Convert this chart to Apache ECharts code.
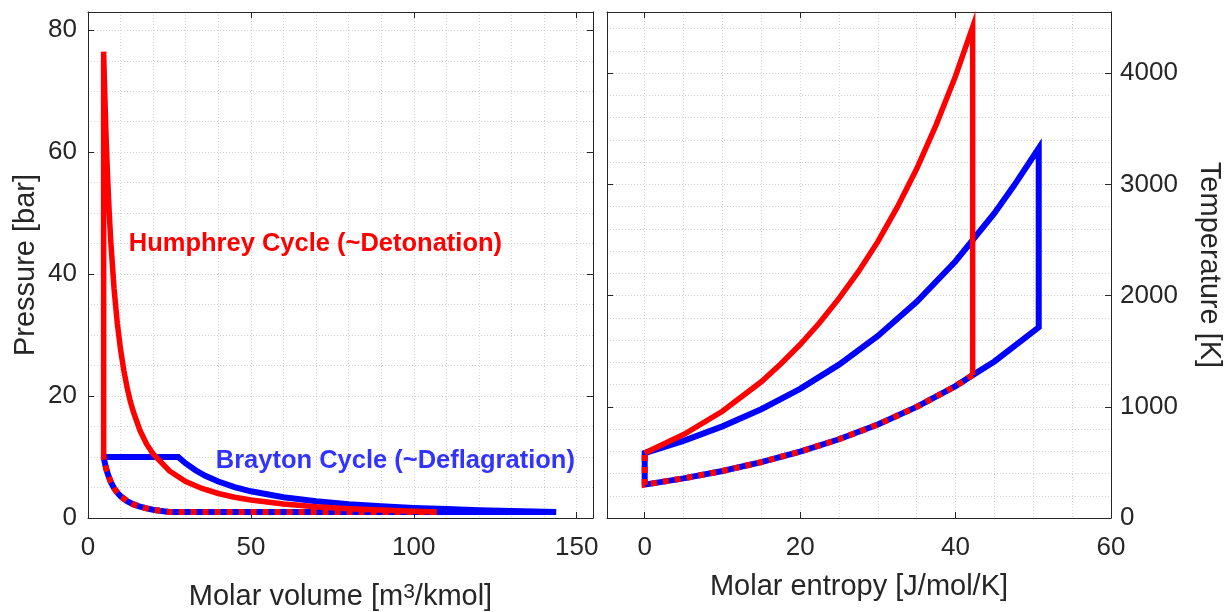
<!DOCTYPE html>
<html><head><meta charset="utf-8">
<script src="https://cdn.jsdelivr.net/npm/echarts@6/dist/echarts.min.js"></script>
<style>html,body{margin:0;padding:0;background:#fff}#c{width:1225px;height:612px}</style>
</head><body><div id="c"></div>
<script>
// ---------- P–v diagram (left panel) ----------
const pvBraytonV = [4.8, 27.7, 30, 33, 36, 40, 45, 50, 60, 70, 80, 90, 100, 110, 120, 130, 143.7, 24.9, 22, 20, 18, 16, 14, 12, 10, 9, 8, 7, 6, 5.5, 5, 4.8];
const pvBraytonP = [10, 10, 8.95, 7.83, 6.93, 5.99, 5.08, 4.38, 3.40, 2.74, 2.27, 1.93, 1.66, 1.46, 1.29, 1.15, 1.0, 1.0, 1.19, 1.36, 1.57, 1.85, 2.23, 2.77, 3.58, 4.15, 4.89, 5.90, 7.32, 8.27, 9.44, 10];
const pvHumphreyV = [4.8, 4.8, 4.9, 5, 5.5, 6, 6.5, 7, 8, 9, 10, 11, 12, 13, 14, 16, 18, 20, 25, 30, 35, 40, 45, 50, 60, 70, 80, 90, 100, 107];
const pvHumphreyP = [10, 76.5, 74.3, 72.3, 63.3, 56.1, 50.2, 45.3, 37.6, 31.9, 27.6, 24.2, 21.4, 19.1, 17.3, 14.3, 12.1, 10.5, 7.72, 5.99, 4.84, 4.02, 3.41, 2.94, 2.29, 1.84, 1.53, 1.30, 1.12, 1.0];
const pvSharedV = [107, 24.9, 22, 20, 18, 16, 14, 12, 10, 9, 8, 7, 6, 5.5, 5, 4.8];
const pvSharedP = [1.0, 1.0, 1.19, 1.36, 1.57, 1.85, 2.23, 2.77, 3.58, 4.15, 4.89, 5.90, 7.32, 8.27, 9.44, 10];

// ---------- T–s diagram (right panel) ----------
const tsBraytonS = [0, 0, 5, 10, 15, 20, 25, 30, 35, 40, 45, 47.5, 50.7, 50.7, 45, 42.2, 40, 35, 30, 25, 20, 15, 10, 5, 0];
const tsBraytonT = [300, 584, 693, 824, 978, 1161, 1379, 1637, 1944, 2309, 2741, 2987, 3325, 1715, 1408, 1285, 1186, 999, 841, 708, 597, 502, 423, 356, 300];
const tsHumphreyS = [0, 5, 10, 15, 17.5, 20, 22.5, 25, 27.5, 30, 32.5, 35, 37.5, 40, 42.2, 42.2];
const tsHumphreyT = [584, 750, 960, 1225, 1385, 1560, 1755, 1975, 2215, 2485, 2795, 3140, 3535, 3975, 4416, 1285];
const tsSharedS = [42.2, 40, 35, 30, 25, 20, 15, 10, 5, 0, 0];
const tsSharedT = [1285, 1186, 999, 841, 708, 597, 502, 423, 356, 300, 584];

// ---------- text ----------
const leftXTitle = ['Molar volume [m', '3', '/kmol]'];
const leftYTitle = 'Pressure [bar]';
const rightXTitle = 'Molar entropy [J/mol/K]';
const rightYTitle = 'Temperature [K]';
const humphreyLabel = 'Humphrey Cycle (~Detonation)';
const braytonLabel = 'Brayton Cycle (~Deflagration)';
const humphreyLabelPos = [12.5, 44.9];
const braytonLabelPos = [39.2, 9.4];

const zip = (a, b) => a.map((v, i) => [v, b[i]]);

const FONT = '"Liberation Sans", Arial, Helvetica, sans-serif';
const TXT = '#262626';
const GRIDC = '#d2d2d2';
const RED = '#ff0000';
const BLUE = '#0000ff';

const axisLine = {show: true, onZero: false, lineStyle: {color: TXT, width: 1}};
const axisTick = {show: true, inside: true, length: 6, lineStyle: {color: TXT, width: 1}};
const splitLine = {show: true, lineStyle: {color: GRIDC, type: [1, 2], width: 1}};
const noSplit = {show: false};
const fmt = v => String(v);
const labelBase = {color: TXT, fontFamily: FONT, fontSize: 26, formatter: fmt};
const titleStyle = {color: TXT, fontFamily: FONT, fontSize: 29};

function mainAxis(o) {
  return Object.assign({
    type: 'value', axisLine, axisTick, splitLine,
    minorTick: {show: false, splitNumber: o.minor},
    minorSplitLine: {show: true, lineStyle: {color: GRIDC, type: [1, 2], width: 1}}
  }, o);
}
function mirrorAxis(o) {
  return Object.assign({
    type: 'value', axisLine, axisTick, splitLine: noSplit,
    axisLabel: {show: false}, minorSplitLine: {show: false}
  }, o);
}

const option = {
  animation: false,
  backgroundColor: '#ffffff',
  grid: [
    {left: 88, right: 632, top: 12, bottom: 94, containLabel: false, outerBoundsMode: 'none'},
    {left: 607, right: 114, top: 12, bottom: 94, containLabel: false, outerBoundsMode: 'none'}
  ],
  xAxis: [
    mainAxis({gridIndex: 0, position: 'bottom', min: 0, max: 155, interval: 50, minor: 5,
      axisLabel: Object.assign({}, labelBase, {margin: 17, showMaxLabel: false}),
      name: '{a|' + leftXTitle[0] + '}{b|' + leftXTitle[1] + '}{a|' + leftXTitle[2] + '}',
      nameLocation: 'middle', nameGap: 64,
      nameTextStyle: {rich: {
        a: {color: TXT, fontFamily: FONT, fontSize: 29, lineHeight: 29, verticalAlign: 'bottom'},
        b: {color: TXT, fontFamily: FONT, fontSize: 21, lineHeight: 5, verticalAlign: 'top'}
      }}}),
    mirrorAxis({gridIndex: 0, position: 'top', min: 0, max: 155, interval: 50}),
    mainAxis({gridIndex: 1, position: 'bottom', min: -4.85, max: 60, splitNumber: 3,
      minInterval: 20, maxInterval: 20, minor: 4,
      axisLabel: Object.assign({}, labelBase, {margin: 17, showMinLabel: false}),
      name: rightXTitle, nameLocation: 'middle', nameGap: 54, nameTextStyle: titleStyle}),
    mirrorAxis({gridIndex: 1, position: 'top', min: -4.85, max: 60, splitNumber: 3,
      minInterval: 20, maxInterval: 20})
  ],
  yAxis: [
    mainAxis({gridIndex: 0, position: 'left', min: 0, max: 83, interval: 20, minor: 4,
      axisLabel: Object.assign({}, labelBase, {margin: 11, showMaxLabel: false}),
      name: leftYTitle, nameLocation: 'middle', nameGap: 48, nameTextStyle: titleStyle}),
    mirrorAxis({gridIndex: 0, position: 'right', min: 0, max: 83, interval: 20}),
    mainAxis({gridIndex: 1, position: 'right', min: 0, max: 4550, interval: 1000, minor: 5,
      axisLabel: Object.assign({}, labelBase, {margin: 9, showMaxLabel: false}),
      name: rightYTitle, nameLocation: 'middle', nameGap: 83, nameRotate: -90, nameTextStyle: titleStyle}),
    mirrorAxis({gridIndex: 1, position: 'left', min: 0, max: 4550, interval: 1000})
  ],
  series: [
    {type: 'line', xAxisIndex: 0, yAxisIndex: 0, data: zip(pvBraytonV, pvBraytonP), showSymbol: false,
      lineStyle: {color: BLUE, width: 6, cap: 'butt', join: 'miter'}, silent: true, z: 2},
    {type: 'line', xAxisIndex: 0, yAxisIndex: 0, data: zip(pvHumphreyV, pvHumphreyP), showSymbol: false,
      lineStyle: {color: RED, width: 5.5, cap: 'butt', join: 'miter'}, silent: true, z: 3},
    {type: 'line', xAxisIndex: 0, yAxisIndex: 0, data: zip(pvSharedV, pvSharedP), showSymbol: false,
      lineStyle: {color: RED, width: 6, type: [6, 6], cap: 'butt', join: 'miter'}, silent: true, z: 4},
    {type: 'scatter', xAxisIndex: 0, yAxisIndex: 0, data: [humphreyLabelPos], symbolSize: 0, silent: true, z: 5,
      itemStyle: {opacity: 1},
      label: {show: true, position: 'right', distance: 0, formatter: humphreyLabel,
        color: RED, fontFamily: FONT, fontSize: 25.5, fontWeight: 'bold'}},
    {type: 'scatter', xAxisIndex: 0, yAxisIndex: 0, data: [braytonLabelPos], symbolSize: 0, silent: true, z: 5,
      itemStyle: {opacity: 1},
      label: {show: true, position: 'right', distance: 0, formatter: braytonLabel,
        color: '#3333ff', fontFamily: FONT, fontSize: 25.5, fontWeight: 'bold'}},
    {type: 'line', xAxisIndex: 2, yAxisIndex: 2, data: zip(tsBraytonS, tsBraytonT), showSymbol: false,
      lineStyle: {color: BLUE, width: 6, cap: 'butt', join: 'miter'}, silent: true, z: 2},
    {type: 'line', xAxisIndex: 2, yAxisIndex: 2, data: zip(tsHumphreyS, tsHumphreyT), showSymbol: false,
      lineStyle: {color: RED, width: 5.5, cap: 'butt', join: 'miter'}, silent: true, z: 3},
    {type: 'line', xAxisIndex: 2, yAxisIndex: 2, data: zip(tsSharedS, tsSharedT), showSymbol: false,
      lineStyle: {color: RED, width: 6, type: [6, 6], cap: 'butt', join: 'miter'}, silent: true, z: 4}
  ]
};

const chart = echarts.init(document.getElementById('c'), null, {renderer: 'canvas'});
chart.setOption(option);
</script>
</body></html>
